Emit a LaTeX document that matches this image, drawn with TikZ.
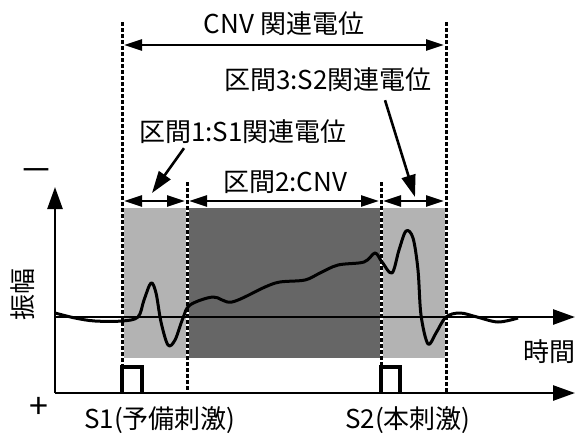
\documentclass[tikz,border=0pt]{standalone}
\usepackage{fontspec}
\setmainfont{Noto Sans CJK JP}
\usetikzlibrary{arrows.meta}
\definecolor{lgray}{RGB}{179,179,179}
\definecolor{dgray}{RGB}{102,102,102}
\begin{document}
\begin{tikzpicture}[x=1pt,y=-1pt,
  font=\fontsize{26}{30}\selectfont,
  axis/.style={line width=2.6pt,-{Triangle[length=22pt,width=15pt]}},
  dimarrow/.style={line width=2.6pt,{Triangle[length=18pt,width=11pt]}-{Triangle[length=18pt,width=11pt]}},
  callout/.style={line width=2.6pt,-{Triangle[length=22pt,width=14pt]}},
  guide/.style={line width=3pt,dash pattern=on 3.5pt off 2.5pt},
  guidebg/.style={line width=3pt,white},
  pulse/.style={line width=3.5pt,line join=miter},
  wave/.style={line width=3pt,line join=round},
  lbl/.style={inner sep=0pt},
  sign/.style={inner sep=0pt,font=\fontsize{34}{36}\selectfont}]
\useasboundingbox (0,0) rectangle (575,432);
% shaded intervals
\fill[lgray] (122,208) rectangle (187,358);
\fill[dgray] (187,208) rectangle (381,358);
\fill[lgray] (381,208) rectangle (446,358);
% guide coordinates
\coordinate (g1t) at (122,22);  \coordinate (g1b) at (122,393);
\coordinate (g2t) at (187,182); \coordinate (g2b) at (187,393);
\coordinate (g3t) at (381,182); \coordinate (g3b) at (381,393);
\coordinate (g4t) at (446,22);  \coordinate (g4b) at (446,393);
\foreach \a/\b in {g1t/g1b,g2t/g2b,g3t/g3b,g4t/g4b}{
  \draw[guidebg] (\a) -- (\b);
  \draw[guide] (\a) -- (\b);
}
% axes
\coordinate (o) at (55,393);
\coordinate (ytop) at (55,187);
\coordinate (z0) at (55,317);
\coordinate (zend) at (575,317);
\coordinate (bend) at (575,393);
\draw[axis] (o) -- (ytop);
\draw[axis] (z0) -- (zend);
\draw[axis] (o) -- (bend);
% stimulus pulses
\draw[pulse] (122,393) -- (122,367) -- (142,367) -- (142,393);
\draw[pulse] (381,393) -- (381,367) -- (400,367) -- (400,393);
% waveform
\draw[wave] plot[smooth,tension=0.55] coordinates {
  (55,313) (75,318) (95,321) (122,321) (138,317) (144,300) (151,283)
  (156,293) (161,322) (168,345) (175,340) (183,318) (190,305)
  (213,297) (232,302) (265,287) (280,282) (305,280) (320,273)
  (338,265) (364,262) (375,253) (382,262) (392,273) (399,250) (406,231)
  (413,238) (418,270) (421,315) (428,344) (436,333) (446,317)
  (460,313) (477,317) (498,322) (518,318)};
% dimension arrows
\coordinate (ta) at (124,45); \coordinate (tb) at (444,45);
\draw[dimarrow] (ta) -- (tb);
\coordinate (a1) at (124,201); \coordinate (a2) at (185,201);
\coordinate (b1) at (189,201); \coordinate (b2) at (379,201);
\coordinate (c1) at (383,201); \coordinate (c2) at (444,201);
\draw[dimarrow] (a1) -- (a2);
\draw[dimarrow] (b1) -- (b2);
\draw[dimarrow] (c1) -- (c2);
% labels
\node[lbl] (title) at (284,24) {CNV 関連電位};
\node[lbl] (s3) at (328,80) {区間3:S2関連電位};
\node[lbl] (s1) at (243,132) {区間1:S1関連電位};
\node[lbl] (s2) at (285,182) {区間2:CNV};
\node[lbl,rotate=90] (amp) at (23,294) {振幅};
\node[lbl] (time) at (549,352) {時間};
\node[sign] (minus) at (36,176) {－};
\node[sign] (plus) at (39,408) {+};
\node[lbl] (st1) at (160,420) {S1(予備刺激)};
\node[lbl] (st2) at (408,420) {S2(本刺激)};
% callouts
\coordinate (p1) at (152,193);
\coordinate (p3) at (415,197);
\draw[callout] (s1.south west) ++(45,4) coordinate (q1) -- (p1);
\draw[callout] (s3.south) ++(57,8) coordinate (q3) -- (p3);
\end{tikzpicture}
\end{document}
